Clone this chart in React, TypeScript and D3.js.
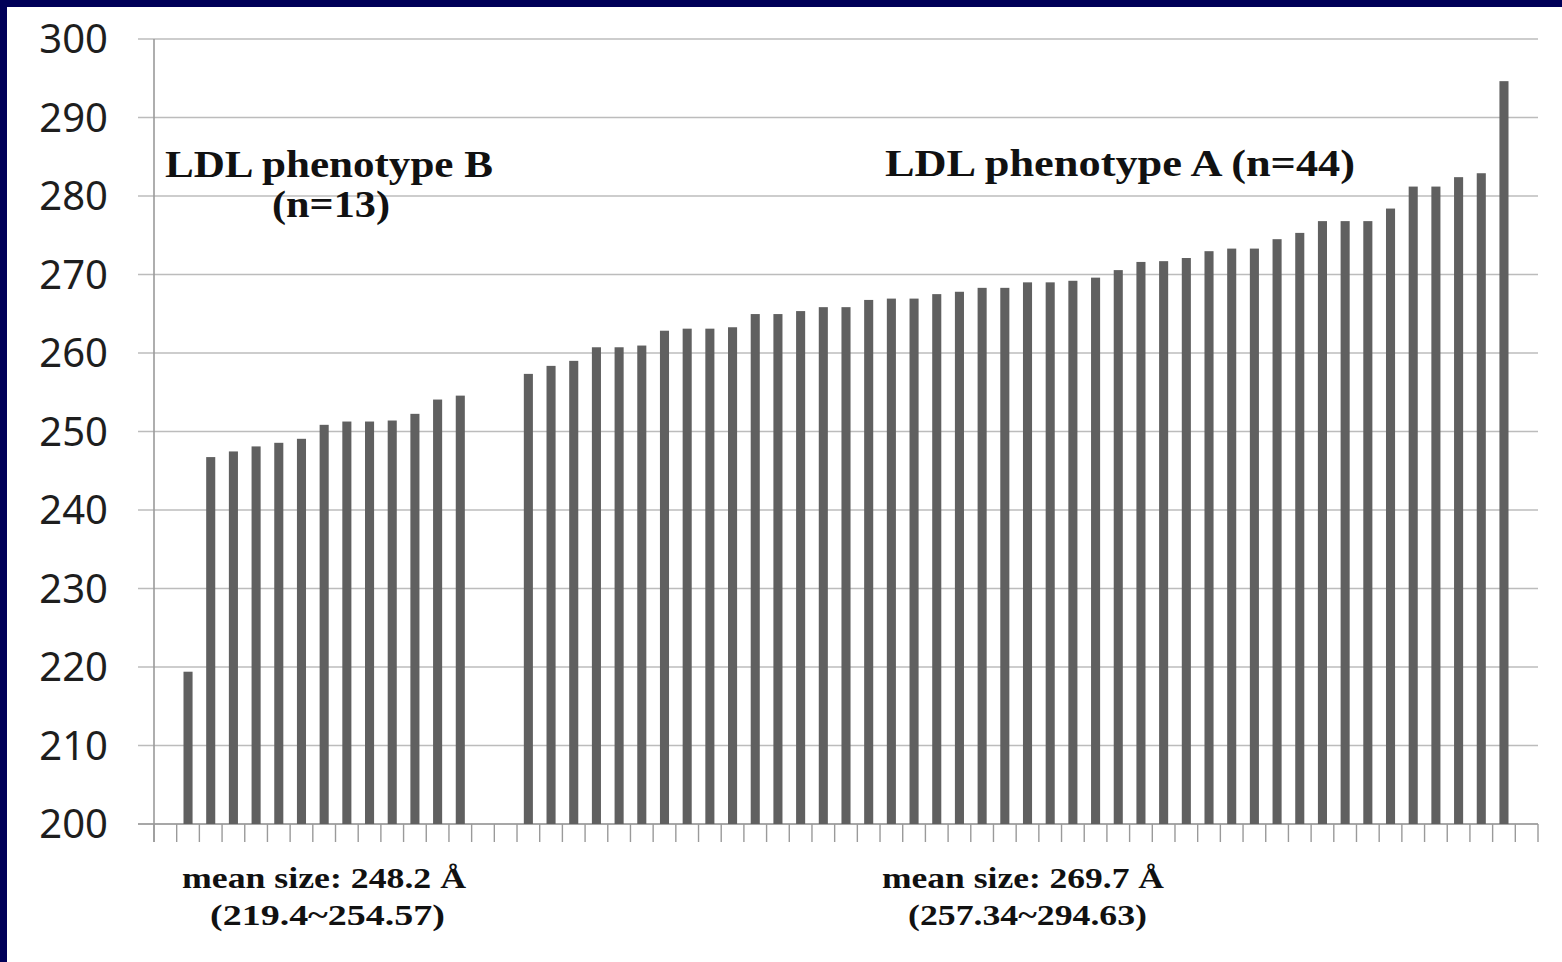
import * as d3 from 'd3'

// LDL particle size (Å), sorted ascending within each phenotype
const phenotypeB = [219.4, 246.74, 247.46, 248.1, 248.56, 249.07, 250.85, 251.27, 251.27, 251.4, 252.25, 254.07, 254.57]
const phenotypeA = [
  257.34, 258.36, 259.0, 260.73, 260.73, 260.95, 262.84, 263.1, 263.1, 263.28,
  264.96, 264.96, 265.34, 265.84, 265.84, 266.76, 266.93, 266.93, 267.5, 267.8,
  268.3, 268.3, 269.0, 269.0, 269.2, 269.6, 270.56, 271.6, 271.7, 272.1,
  272.97, 273.3, 273.3, 274.5, 275.3, 276.8, 276.8, 276.8, 278.4, 281.2,
  281.2, 282.4, 282.9, 294.63,
]
const yTicks = [200, 210, 220, 230, 240, 250, 260, 270, 280, 290, 300]

// slot layout along the category axis: blank, B, two blanks, A, blank
const slots: (number | null)[] = [null, ...phenotypeB, null, null, ...phenotypeA, null]

const W = 1562
const H = 962
const left = 154
const right = 1538
const top = 39
const bottom = 824

const serif = '"Liberation Serif", "Times New Roman", serif'

export default function App() {
  const x = d3.scaleBand<number>()
    .domain(d3.range(slots.length))
    .range([left, right])
    .paddingInner(0.6)
    .paddingOuter(0.3)
  const step = x.step()
  const y = d3.scaleLinear().domain([200, 300]).range([bottom, top])

  const tickXs = d3.range(slots.length + 1).map(i => left + i * step)

  return (
    <div style={{ position: 'fixed', left: 0, top: 0 }}>
      <svg width={W} height={H} style={{ display: 'block' }}>
        <rect x={0} y={0} width={W} height={H} fill="#000058" />
        <rect x={7} y={7} width={W - 7} height={H - 7} fill="#ffffff" />

        {yTicks.map(t => (
          <g key={t}>
            <line x1={left - 16} x2={right} y1={y(t)} y2={y(t)} stroke="#bcbcbc" strokeWidth={1.6} />
            <text x={108} y={y(t)} dy="0.35em" textAnchor="end" fontFamily='"Noto Sans", sans-serif'
              fontSize={40} fill="#1e1e1e">{t}</text>
          </g>
        ))}

        <line x1={left} x2={left} y1={top} y2={bottom + 18} stroke="#9a9a9a" strokeWidth={1.6} />
        <line x1={left - 16} x2={right} y1={bottom} y2={bottom} stroke="#9a9a9a" strokeWidth={1.6} />
        {tickXs.map((tx, i) => (
          <line key={i} x1={tx} x2={tx} y1={bottom} y2={bottom + 18} stroke="#9a9a9a" strokeWidth={1.4} />
        ))}

        {slots.map((v, i) => v == null ? null : (
          <rect key={i} x={x(i)} y={y(v)} width={x.bandwidth()} height={y(200) - y(v)} fill="#606060" />
        ))}

        <g fontFamily={serif} fontWeight="bold" fill="#111">
          <text x={165} y={177} fontSize={38} textLength={328} lengthAdjust="spacingAndGlyphs">LDL phenotype B</text>
          <text x={272} y={217} fontSize={38} textLength={118} lengthAdjust="spacingAndGlyphs">(n=13)</text>
          <text x={885} y={176} fontSize={38} textLength={470} lengthAdjust="spacingAndGlyphs">LDL phenotype A (n=44)</text>

          <text x={182} y={888} fontSize={29} textLength={284} lengthAdjust="spacingAndGlyphs">mean size: 248.2 Å</text>
          <text x={210} y={925} fontSize={29} textLength={235} lengthAdjust="spacingAndGlyphs">(219.4~254.57)</text>
          <text x={882} y={888} fontSize={29} textLength={282} lengthAdjust="spacingAndGlyphs">mean size: 269.7 Å</text>
          <text x={908} y={925} fontSize={29} textLength={239} lengthAdjust="spacingAndGlyphs">(257.34~294.63)</text>
        </g>
      </svg>
    </div>
  )
}
